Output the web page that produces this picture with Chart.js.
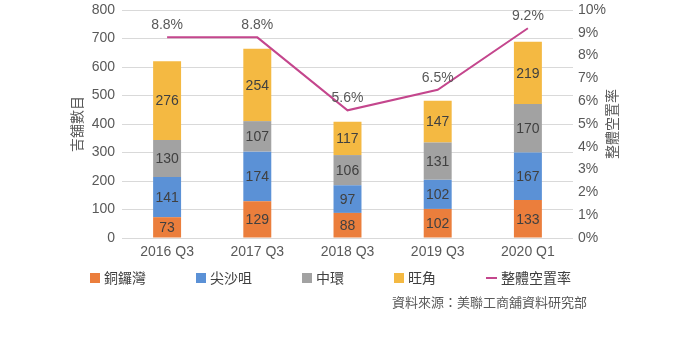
<!DOCTYPE html>
<html>
<head>
<meta charset="utf-8">
<script src="https://cdn.jsdelivr.net/npm/chart.js@4.4.1/dist/chart.umd.min.js"></script>
<style>
  body { margin: 0; background: #fff; }
  #wrap { position: relative; width: 699px; height: 350px; font-family: 'Liberation Sans', 'Noto Sans CJK TC', sans-serif; }
  #legenda { position: absolute; left: 90px; top: 270px; display: flex; font-size: 14px; color: #404040; line-height: 16px; }
  #legenda .item { display: flex; align-items: center; margin-right: 50px; }
  #legenda .caixa { width: 10px; height: 10px; margin-right: 4px; }
  #legenda .linha { width: 11px; height: 2px; margin-right: 4px; }
  #fonte { position: absolute; left: 392px; top: 292px; font-size: 13px; color: #595959; white-space: nowrap; }
</style>
</head>
<body>
<div id="wrap">
  <canvas id="grafico" width="699" height="350"></canvas>
  <div id="legenda"></div>
  <div id="fonte">資料來源：美聯工商舖資料研究部</div>
</div>
<script>
var periodos = ["2016 Q3", "2017 Q3", "2018 Q3", "2019 Q3", "2020 Q1"];
var causewayBay = [73, 129, 88, 102, 133];
var tsimShaTsui = [141, 174, 97, 102, 167];
var central = [130, 107, 106, 131, 170];
var mongKok = [276, 254, 117, 147, 219];
var vacancia = [8.8, 8.8, 5.6, 6.5, 9.2];

var nomes = ["銅鑼灣", "尖沙咀", "中環", "旺角"];
var cores = ["#EB7E3C", "#5B91D6", "#A2A2A2", "#F4B942"];
var corLinha = "#C4468D";
var fonte = "'Liberation Sans', 'Noto Sans CJK TC', sans-serif";

var rotulos = {
  id: "rotulos",
  afterDatasetsDraw: function (chart) {
    var ctx = chart.ctx;
    ctx.save();
    ctx.font = "14px " + fonte;
    ctx.textAlign = "center";
    ctx.textBaseline = "middle";
    chart.data.datasets.forEach(function (ds, i) {
      var meta = chart.getDatasetMeta(i);
      meta.data.forEach(function (el, j) {
        if (ds.type === "line") {
          ctx.fillStyle = "#595959";
          ctx.fillText(ds.data[j].toFixed(1) + "%", el.x, el.y - 12);
        } else {
          ctx.fillStyle = "#404040";
          ctx.fillText(ds.data[j], el.x, (el.y + el.base) / 2 + 1);
        }
      });
    });
    // titulos dos eixos, girados -90
    ctx.fillStyle = "#595959";
    ctx.font = "14px " + fonte;
    var meio = (chart.chartArea.top + chart.chartArea.bottom) / 2;
    [["吉舖數目", 78], ["整體空置率", 613]].forEach(function (t) {
      ctx.save();
      ctx.translate(t[1], meio);
      ctx.rotate(-Math.PI / 2);
      ctx.fillText(t[0], 0, 0);
      ctx.restore();
    });
    ctx.restore();
  }
};

var conjuntos = [causewayBay, tsimShaTsui, central, mongKok].map(function (serie, i) {
  return {
    type: "bar",
    label: nomes[i],
    data: serie,
    backgroundColor: cores[i],
    stack: "lojas",
    yAxisID: "y",
    barPercentage: 0.31,
    categoryPercentage: 1,
    order: 1
  };
});
conjuntos.push({
  type: "line",
  label: "整體空置率",
  data: vacancia,
  borderColor: corLinha,
  borderWidth: 2,
  pointRadius: 0,
  tension: 0,
  yAxisID: "y1",
  order: 0
});

function ajustarY(largura) {
  return function (s) {
    s.width = largura;
    s.paddingTop = 0;
    s.paddingBottom = 0;
  };
}

new Chart(document.getElementById("grafico"), {
  type: "bar",
  data: { labels: periodos, datasets: conjuntos },
  options: {
    responsive: false,
    animation: false,
    layout: { padding: { top: 10, bottom: 82, left: 0, right: 0 } },
    plugins: {
      legend: { display: false },
      tooltip: { enabled: false }
    },
    scales: {
      x: {
        stacked: true,
        grid: { display: false, drawTicks: false },
        border: { display: false },
        ticks: { color: "#595959", font: { family: fonte, size: 14 }, padding: 6 },
        afterFit: function (s) { s.height = 30; }
      },
      y: {
        stacked: true,
        min: 0,
        max: 800,
        ticks: { stepSize: 100, color: "#595959", font: { family: fonte, size: 14 }, padding: 7 },
        grid: { color: "#D9D9D9", drawTicks: false },
        border: { display: false },
        afterFit: ajustarY(122)
      },
      y1: {
        position: "right",
        min: 0,
        max: 10,
        ticks: {
          stepSize: 1,
          color: "#595959",
          font: { family: fonte, size: 14 },
          padding: 5,
          callback: function (v) { return v + "%"; }
        },
        grid: { display: false, drawTicks: false },
        border: { display: false },
        afterFit: ajustarY(126)
      }
    }
  },
  plugins: [rotulos]
});

var legenda = document.getElementById("legenda");
nomes.forEach(function (nome, i) {
  legenda.innerHTML += '<div class="item"><div class="caixa" style="background:' + cores[i] + '"></div>' + nome + '</div>';
});
legenda.innerHTML += '<div class="item"><div class="linha" style="background:' + corLinha + '"></div>整體空置率</div>';
</script>
</body>
</html>
